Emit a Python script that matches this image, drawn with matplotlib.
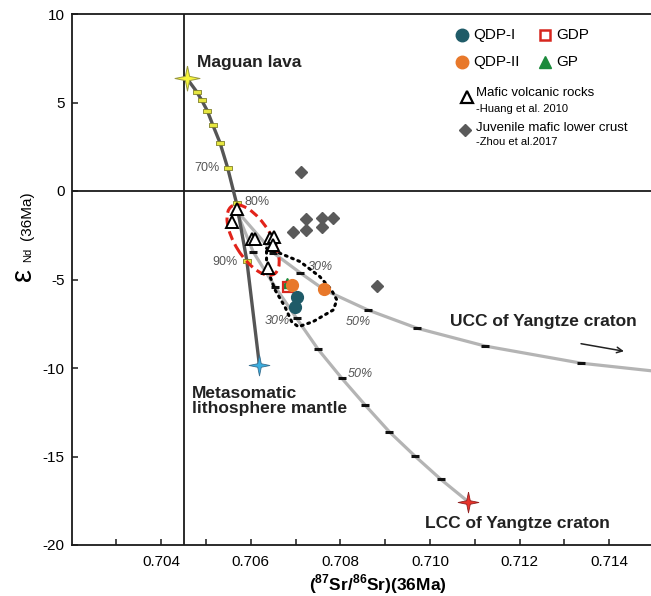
import matplotlib.pyplot as plt
import matplotlib.transforms as mtransforms
from matplotlib.patches import Ellipse
from matplotlib.path import Path

plt.rcParams['font.family'] = ['Liberation Sans', 'DejaVu Sans']
plt.rcParams['mathtext.fontset'] = 'custom'
plt.rcParams['mathtext.rm'] = 'Liberation Sans'
plt.rcParams['mathtext.bf'] = 'Liberation Sans:bold'
plt.rcParams['axes.unicode_minus'] = False

# end members (87Sr/86Sr, eNd)
maguan = (0.70457, 6.37)
mantle = (0.70619, -9.83)
lcc_end = (0.71085, -17.55)
hybrid = (0.70567, -1.07)
ucc_tail = (0.71513, -10.21)

# Maguan lava - metasomatic mantle mixing, 10% steps
mix_sr = [0.70479, 0.70490, 0.70503, 0.70515, 0.70531, 0.70548, 0.70568, 0.70591]
mix_nd = [5.61, 5.14, 4.52, 3.73, 2.73, 1.32, -0.69, -3.94]

# hybrid melt - LCC mixing, 10% steps
lcc_sr = [0.70605, 0.70654, 0.70702, 0.70750, 0.70803, 0.70855, 0.70909, 0.70966, 0.71024]
lcc_nd = [-3.43, -5.41, -7.19, -8.94, -10.58, -12.09, -13.60, -14.97, -16.29]

# hybrid melt - UCC mixing, 20%..80%
ucc_sr = [0.70650, 0.70710, 0.70765, 0.70861, 0.70972, 0.71123, 0.71338]
ucc_nd = [-3.49, -4.62, -5.60, -6.72, -7.76, -8.76, -9.73]

# samples
qdp1_sr = [0.70702, 0.70698]
qdp1_nd = [-5.97, -6.54]
qdp2_sr = [0.70691, 0.70763]
qdp2_nd = [-5.31, -5.55]
gdp_sr = [0.70684]
gdp_nd = [-5.41]
gp_sr = [0.70680]
gp_nd = [-5.18]
huang_sr = [0.70570, 0.70557, 0.70602, 0.70609, 0.70643, 0.70652, 0.70650, 0.70639]
huang_nd = [-1.03, -1.73, -2.73, -2.73, -2.66, -2.58, -3.05, -4.37]
zhou_sr = [0.70713, 0.70723, 0.70758, 0.70783, 0.70695, 0.70723, 0.70758, 0.70881]
zhou_nd = [1.06, -1.60, -1.51, -1.54, -2.30, -2.20, -2.05, -5.37]

# dotted field around the samples
field_sr = [0.70635, 0.70665, 0.70710, 0.70754, 0.70780, 0.70792, 0.70784, 0.70739,
            0.70706, 0.70691, 0.70676, 0.70654, 0.70643, 0.70635, 0.70635]
field_nd = [-3.24, -3.52, -3.99, -4.84, -5.59, -6.16, -6.72, -7.38,
            -7.67, -7.38, -6.54, -5.59, -4.84, -3.90, -3.24]

star4 = Path([(0, 1), (0.17, 0.17), (1, 0), (0.17, -0.17), (0, -1), (-0.17, -0.17),
              (-1, 0), (-0.17, 0.17), (0, 1)])
dash = Path([(-1, -0.4), (1, -0.4), (1, 0.4), (-1, 0.4), (-1, -0.4)])

fig = plt.figure(figsize=(6.51, 5.96), dpi=100)
ax = fig.add_axes([71.7 / 651, 51 / 596, 582.3 / 651, 531 / 596])
ax.set_xlim(0.702, 0.715)
ax.set_ylim(-20, 10)

ax.axhline(0, color='#1a1a1a', lw=1.3, zorder=1)
ax.axvline(0.7045, color='#1a1a1a', lw=1.3, zorder=1)

# mixing curves
ax.plot([hybrid[0]] + ucc_sr + [ucc_tail[0]], [hybrid[1]] + ucc_nd + [ucc_tail[1]],
        color='#b4b4b4', lw=2.3, solid_joinstyle='round', zorder=2)
ax.plot([hybrid[0]] + lcc_sr + [lcc_end[0]], [hybrid[1]] + lcc_nd + [lcc_end[1]],
        color='#b4b4b4', lw=2.3, solid_joinstyle='round', zorder=2)
ax.plot(ucc_sr, ucc_nd, ls='none', marker='_', ms=6, mew=2.2, color='#111111', zorder=3)
ax.plot(lcc_sr, lcc_nd, ls='none', marker='_', ms=6, mew=2.2, color='#111111', zorder=3)
ax.plot([maguan[0]] + mix_sr + [mantle[0]], [maguan[1]] + mix_nd + [mantle[1]],
        color='#555555', lw=2.4, solid_joinstyle='round', zorder=3)
ax.plot(mix_sr, mix_nd, ls='none', marker=dash, ms=6, mfc='#e6e640', mec='#80802a',
        mew=0.6, zorder=4)

# fields
ax.plot(field_sr, field_nd, color='black', lw=2.2, ls=(0, (0.6, 1.6)),
        dash_capstyle='round', zorder=4)
ell_trans = fig.dpi_scale_trans + mtransforms.ScaledTranslation(0.70605, -2.77, ax.transData)
ax.add_patch(Ellipse((0, 0), 0.80, 0.36, angle=-58, fill=False, ec='#e2231a', lw=2.2,
                     ls=(0, (3, 1.6)), transform=ell_trans, zorder=4))

# samples
ax.plot(zhou_sr, zhou_nd, ls='none', marker='D', ms=6.5, color='#5a5a5a', zorder=5)
ax.plot(huang_sr, huang_nd, ls='none', marker='^', ms=8.5, mfc='white', mec='black',
        mew=1.4, zorder=6)
ax.plot(gp_sr, gp_nd, ls='none', marker='^', ms=7, color='#1b8a3c', zorder=6)
ax.plot(gdp_sr, gdp_nd, ls='none', marker='s', ms=7, mfc='none', mec='#d7261e',
        mew=1.6, zorder=6)
ax.plot(qdp2_sr, qdp2_nd, ls='none', marker='o', ms=8.5, color='#e8782a', zorder=7)
ax.plot(qdp1_sr, qdp1_nd, ls='none', marker='o', ms=8.5, color='#1f5b68', zorder=7)

# end member stars
ax.plot(*maguan, marker=star4, ms=18, mfc='#f6f43a', mec='#9a9a40', mew=0.7, zorder=8)
ax.plot(*mantle, marker=star4, ms=15, mfc='#3aaee0', mec='#3a6f90', mew=0.6, zorder=8)
ax.plot(*lcc_end, marker=star4, ms=15, mfc='#e8332a', mec='#902020', mew=0.6, zorder=8)

# labels
bold = dict(fontsize=12.5, fontweight='bold', color='#222222', va='center')
ax.text(0.70480, 7.27, 'Maguan lava', **bold)
ax.text(0.70468, -11.86, 'Metasomatic\nlithosphere mantle', linespacing=1.05, **bold)
ax.text(0.70989, -18.77, 'LCC of Yangtze craton', **bold)
ax.text(0.71044, -7.38, 'UCC of Yangtze craton', **bold)
ax.annotate('', xy=(0.71439, -9.08), xytext=(0.71331, -8.60),
            arrowprops=dict(arrowstyle='->', color='#222222', lw=1.1))

pct = dict(fontsize=9, color='#555555', ha='center', va='center')
ax.text(0.70503, 1.32, '70%', **pct)
ax.text(0.70613, -0.60, '80%', **pct)
ax.text(0.70542, -3.99, '90%', **pct)
ax.text(0.70754, -4.28, '30%', style='italic', **pct)
ax.text(0.70658, -7.33, '30%', style='italic', **pct)
ax.text(0.70840, -7.38, '50%', style='italic', **pct)
ax.text(0.70844, -10.36, '50%', style='italic', **pct)

# legend
def axpos(px, py):
    return (px - 71.7) / 582.3, (545 - py) / 531

leg = [
    ((461.7, 35), dict(marker='o', ms=9, color='#1f5b68'), (473.3, 35), 'QDP-I'),
    ((545, 35), dict(marker='s', ms=7.5, mfc='none', mec='#d7261e', mew=1.8), (556.7, 35), 'GDP'),
    ((461.7, 61.7), dict(marker='o', ms=9, color='#e8782a'), (473.3, 61.7), 'QDP-II'),
    ((545, 61.7), dict(marker='^', ms=8, color='#1b8a3c'), (556.7, 61.7), 'GP'),
]
for mpos, style, tpos, label in leg:
    ax.plot(*axpos(*mpos), transform=ax.transAxes, clip_on=False, **style)
    ax.text(*axpos(*tpos), label, transform=ax.transAxes, fontsize=11, va='center')
ax.plot(*axpos(466.7, 96.7), transform=ax.transAxes, marker='^', ms=8, mfc='white',
        mec='black', mew=1.6)
ax.text(*axpos(476, 93.3), 'Mafic volcanic rocks', transform=ax.transAxes,
        fontsize=9.5, va='center')
ax.text(*axpos(476, 109), '-Huang et al. 2010', transform=ax.transAxes,
        fontsize=8, va='center')
ax.plot(*axpos(465, 130), transform=ax.transAxes, marker='D', ms=6, color='#5a5a5a')
ax.text(*axpos(476, 128.3), 'Juvenile mafic lower crust', transform=ax.transAxes,
        fontsize=9.5, va='center')
ax.text(*axpos(476, 141.7), '-Zhou et al.2017', transform=ax.transAxes,
        fontsize=8, va='center')

# axes
ax.set_xticks([0.704, 0.706, 0.708, 0.710, 0.712, 0.714])
ax.set_xticklabels(['0.704', '0.706', '0.708', '0.710', '0.712', '0.714'])
ax.set_xticks([0.703, 0.705, 0.707, 0.709, 0.711, 0.713], minor=True)
ax.set_yticks([-20, -15, -10, -5, 0, 5, 10])
ax.tick_params(which='both', direction='in', length=4, width=1.1, color='#1a1a1a')
ax.tick_params(axis='x', labelsize=11, pad=7)
ax.tick_params(axis='y', labelsize=11, pad=5)
for side in ['left', 'bottom', 'top']:
    ax.spines[side].set_linewidth(1.3)
    ax.spines[side].set_color('#1a1a1a')
ax.spines['right'].set_visible(False)

fig.text(378 / 651, 1 - 584 / 596,
         r'($^{\mathbf{87}}$Sr/$^{\mathbf{86}}$Sr)(36Ma)', fontsize=12.5,
         fontweight='bold', ha='center', va='center')
ylab = dict(rotation=90, rotation_mode='anchor', ha='center', va='baseline')
fig.text(31 / 651, 1 - 274 / 596, 'ε', fontsize=21, **ylab)
fig.text(31 / 651, 1 - 255 / 596, 'Nd', fontsize=8, **ylab)
fig.text(31 / 651, 1 - 216 / 596, '(36Ma)', fontsize=11, **ylab)

fig.savefig('out.png', dpi=100)
